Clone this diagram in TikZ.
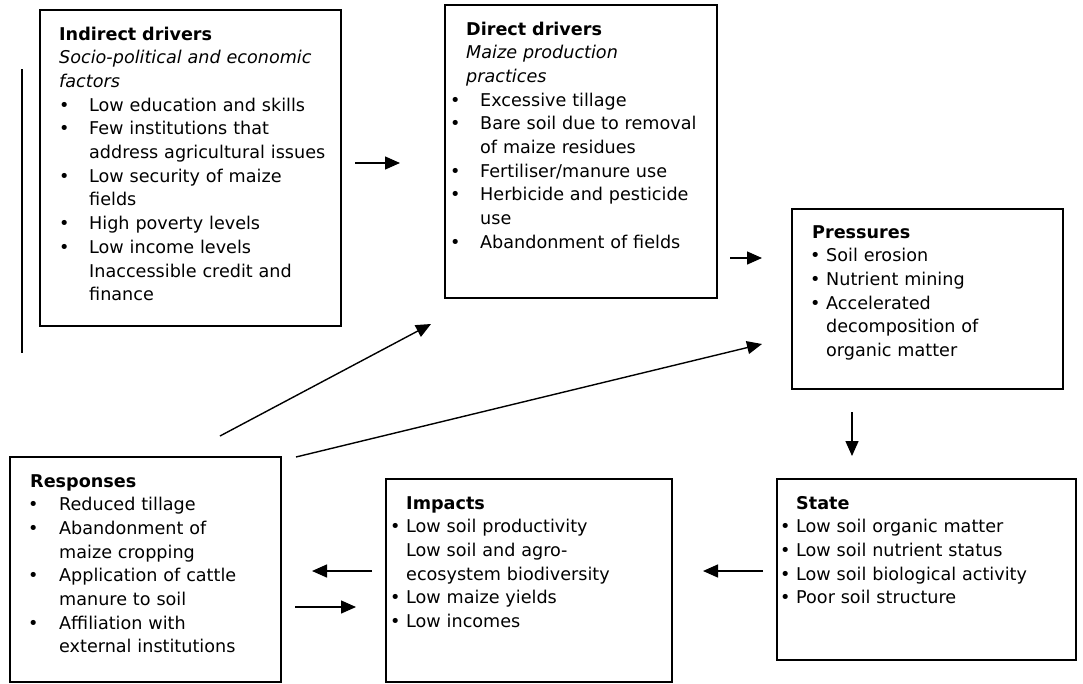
\documentclass[tikz,border=0pt]{standalone}
\usepackage{fontspec}
\setmainfont{DejaVu Sans}
\usetikzlibrary{arrows.meta}
\newcommand{\bl}[2]{\makebox[0pt][l]{\hspace*{#1pt}\textbullet}\hspace*{#2pt}}
\newcommand{\ind}[1]{\hspace*{#1pt}}
\begin{document}
\begin{tikzpicture}[x=1pt,y=-1pt,
  box/.style={draw,line width=1.5pt,inner sep=0pt,outer sep=0pt,rectangle,anchor=north west},
  txt/.style={anchor=base west,inner sep=0pt,text width=330pt,align=left,font=\fontsize{17.6}{23.7}\selectfont},
  arr/.style={line width=1.4pt,-{Triangle[length=15pt,width=13pt]}},
  plain/.style={line width=1.4pt}]
\useasboundingbox (0,0) rectangle (1083,683);

% boxes
\node[box,minimum width=301pt,minimum height=316pt] (b1) at (40,10) {};
\node[box,minimum width=272pt,minimum height=293pt] (b2) at (445,5) {};
\node[box,minimum width=271pt,minimum height=180pt] (b3) at (792,209) {};
\node[box,minimum width=299pt,minimum height=181pt] (b4) at (777,479) {};
\node[box,minimum width=286pt,minimum height=203pt] (b5) at (386,479) {};
\node[box,minimum width=271pt,minimum height=225pt] (b6) at (10,457) {};

% texts
\node[txt] (t1) at (59,40) {\textbf{Indirect drivers}\\
\textit{Socio-political and economic}\\
\textit{factors}\\
\bl{0}{30}Low education and skills\\
\bl{0}{30}Few institutions that\\
\ind{30}address agricultural issues\\
\bl{0}{30}Low security of maize\\
\ind{30}fields\\
\bl{0}{30}High poverty levels\\
\bl{0}{30}Low income levels\\
\ind{30}Inaccessible credit and\\
\ind{30}finance};

\node[txt] (t2) at (466,35) {\textbf{Direct drivers}\\
\textit{Maize production}\\
\textit{practices}\\
\bl{-16}{14}Excessive tillage\\
\bl{-16}{14}Bare soil due to removal\\
\ind{14}of maize residues\\
\bl{-16}{14}Fertiliser/manure use\\
\bl{-16}{14}Herbicide and pesticide\\
\ind{14}use\\
\bl{-16}{14}Abandonment of fields};

\node[txt] (t3) at (812,238) {\textbf{Pressures}\\
\bl{-2}{14}Soil erosion\\
\bl{-2}{14}Nutrient mining\\
\bl{-2}{14}Accelerated\\
\ind{14}decomposition of\\
\ind{14}organic matter};

\node[txt] (t4) at (796,509) {\textbf{State}\\
\bl{-16}{0}Low soil organic matter\\
\bl{-16}{0}Low soil nutrient status\\
\bl{-16}{0}Low soil biological activity\\
\bl{-16}{0}Poor soil structure};

\node[txt] (t5) at (406,509) {\textbf{Impacts}\\
\bl{-16}{0}Low soil productivity\\
Low soil and agro-\\
ecosystem biodiversity\\
\bl{-16}{0}Low maize yields\\
\bl{-16}{0}Low incomes};

\node[txt] (t6) at (30,487) {\textbf{Responses}\\
\bl{-2}{29}Reduced tillage\\
\bl{-2}{29}Abandonment of\\
\ind{29}maize cropping\\
\bl{-2}{29}Application of cattle\\
\ind{29}manure to soil\\
\bl{-2}{29}Affiliation with\\
\ind{29}external institutions};

% connector end points
\coordinate (a1s) at (355,163); \coordinate (a1e) at (400,163);
\coordinate (a2s) at (730,258); \coordinate (a2e) at (762,258);
\coordinate (a3s) at (852,412); \coordinate (a3e) at (852,456);
\coordinate (a4s) at (763,571); \coordinate (a4e) at (703,571);
\coordinate (a5s) at (372,571); \coordinate (a5e) at (312,571);
\coordinate (a6s) at (295,607); \coordinate (a6e) at (356,607);
\coordinate (d1s) at (220,436); \coordinate (d1e) at (431,324);
\coordinate (d2s) at (296,457); \coordinate (d2e) at (762,344);
\coordinate (vls) at (22,69); \coordinate (vle) at (22,353);

\draw[arr] (a1s) -- (a1e);
\draw[arr] (a2s) -- (a2e);
\draw[arr] (a3s) -- (a3e);
\draw[arr] (a4s) -- (a4e);
\draw[arr] (a5s) -- (a5e);
\draw[arr] (a6s) -- (a6e);
\draw[arr] (d1s) -- (d1e);
\draw[arr] (d2s) -- (d2e);
\draw[plain] (vls) -- (vle);
\end{tikzpicture}
\end{document}
